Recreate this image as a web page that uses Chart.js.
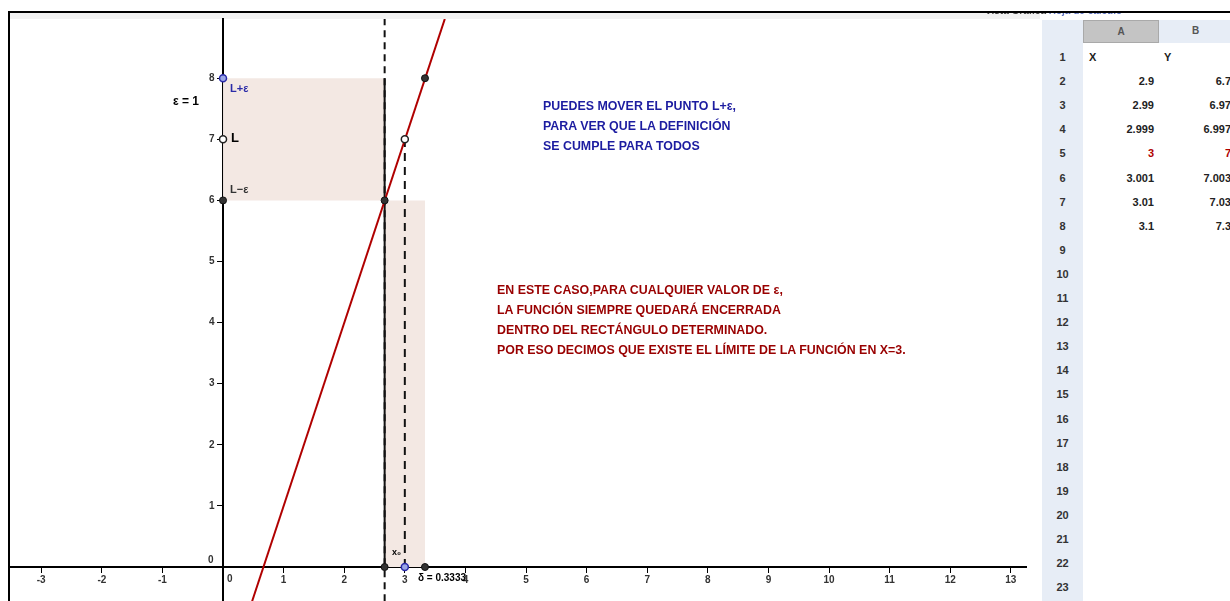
<!DOCTYPE html>
<html>
<head>
<meta charset="utf-8">
<script src="https://cdn.jsdelivr.net/npm/chart.js@4.4.1/dist/chart.umd.min.js"></script>
<style>
  body { margin:0; width:1230px; height:601px; overflow:hidden; background:#fff; position:relative; font-family:"Liberation Sans", Arial, sans-serif; }
  .abs { position:absolute; white-space:nowrap; }
  #topline { left:8px; top:11px; width:1222px; height:2px; background:#000; }
  #leftline { left:8px; top:11px; width:2px; height:590px; background:#000; }
  #strip { left:10px; top:13px; width:1030px; height:6px; background:#f1f1f1; }
  #wrap { left:10px; top:19px; width:1016px; height:582px; }
  .lbl { font-weight:bold; font-size:11px; line-height:12px; }
  .note { font-weight:bold; font-size:12.4px; line-height:20px; }
  #rowcol { left:1042px; top:20px; width:41px; height:581px; background:#e7edf6; }
  #headrow { left:1083px; top:20px; width:150px; height:23px; background:#e7edf6; }
  #headA { left:1083px; top:20px; width:74px; height:21px; background:#c4c4c4; border:1px solid #a9a9a9; text-align:center; line-height:21px; font-size:10px; font-weight:bold; color:#555; }
  .cell { font-size:11px; font-weight:bold; color:#222; line-height:14px; }
</style>
</head>
<body>
<div class="abs" id="strip"></div>
<div class="abs" id="wrap"><canvas id="ch"></canvas></div>
<div class="abs" id="topline"></div>
<div class="abs" id="leftline"></div>

<div class="abs" style="left:985px;top:13px;width:165px;height:4px;overflow:hidden">
  <div class="abs" style="left:0;top:-8px;font-size:10px;font-weight:bold;color:#444">Vista Gráfica <span style="color:#5a6fc0">Hoja de cálculo</span></div>
</div>

<div class="abs lbl" style="left:173px;top:95px;font-size:12px">ε = 1</div>
<div class="abs lbl" style="left:230px;top:82px;color:#2b2ba8">L+ε</div>
<div class="abs lbl" style="left:231px;top:132px;font-size:13px">L</div>
<div class="abs lbl" style="left:230px;top:183px;color:#333">L−ε</div>
<div class="abs lbl" style="left:392px;top:546px;font-size:9px">x₀</div>
<div class="abs lbl" style="left:418px;top:572px;font-size:10px">δ = 0.3333</div>
<div class="abs lbl" style="left:208px;top:554px;font-size:10px;color:#333">0</div>
<div class="abs lbl" style="left:227px;top:573px;font-size:10px;color:#333">0</div>

<div class="abs note" style="left:543px;top:96px;color:#1c1ca0">PUEDES MOVER EL PUNTO L+ε,<br>PARA VER QUE LA DEFINICIÓN<br>SE CUMPLE PARA TODOS</div>
<div class="abs note" style="left:497px;top:280px;color:#990000">EN ESTE CASO,PARA CUALQUIER VALOR DE ε,<br>LA FUNCIÓN SIEMPRE QUEDARÁ ENCERRADA<br>DENTRO DEL RECTÁNGULO DETERMINADO.<br>POR ESO DECIMOS QUE EXISTE EL LÍMITE DE LA FUNCIÓN EN X=3.</div>

<div class="abs" id="rowcol"></div>
<div class="abs" id="headrow"></div>
<div class="abs" id="headA">A</div>
<div class="abs" style="left:1192px;top:25px;font-size:10px;font-weight:bold;color:#555">B</div>
<div id="sheet"></div>

<script>
// values
const colX = ['X', '2.9', '2.99', '2.999', '3', '3.001', '3.01', '3.1'];
const colY = ['Y', '6.7', '6.97', '6.997', '7', '7.003', '7.03', '7.3'];
const redRow = 4;
const rowCount = 23;

const fLine = [{x:0.48, y:-0.56}, {x:3.66, y:8.97}];
const bandTop = [{x:0, y:8}, {x:2.667, y:8}];
const bandBottom = [{x:0, y:6}, {x:2.667, y:6}];
const bandV = [{x:2.667, y:6}, {x:3.333, y:6}];
const solidV = [{x:2.667, y:0}, {x:2.667, y:8}];
const dashedV = [{x:2.667, y:-0.56}, {x:2.667, y:8.97}];
const dashedX0 = [{x:3, y:0}, {x:3, y:7}];
const darkPts = [{x:0, y:6}, {x:3.333, y:8}, {x:2.667, y:6}, {x:2.667, y:0}, {x:3.333, y:0}];
const hollowPts = [{x:0, y:7}, {x:3, y:7}];
const bluePts = [{x:0, y:8}, {x:3, y:0}];

const X_MIN = -3.507, X_MAX = 13.259, Y_MIN = -0.556, Y_MAX = 8.969;
// where the plot area should sit on the page
const AREA = { left:10, top:19, right:1026, bottom:601 };

// spreadsheet
const sheet = document.getElementById('sheet');
let html = '';
for (let i = 0; i < rowCount; i++) {
  const cy = 50 + i * 24.1;
  html += `<div class="abs cell" style="left:1042px;width:41px;text-align:center;top:${cy}px;color:#333">${i+1}</div>`;
  if (i < colX.length) {
    const col = i === redRow ? '#b00000' : '#222';
    if (i === 0) {
      html += `<div class="abs cell" style="left:1089px;top:${cy}px">${colX[i]}</div>`;
      html += `<div class="abs cell" style="left:1164px;top:${cy}px">${colY[i]}</div>`;
    } else {
      html += `<div class="abs cell" style="left:1083px;width:71px;text-align:right;top:${cy}px;color:${col}">${colX[i]}</div>`;
      html += `<div class="abs cell" style="left:1158px;width:73px;text-align:right;top:${cy}px;color:${col}">${colY[i]}</div>`;
    }
  }
}
sheet.innerHTML = html;

const pink = '#f3e8e3';
const tickFont = { family:'"Liberation Sans", Arial, sans-serif', size:10, weight:'bold' };

const chart = new Chart(document.getElementById('ch'), {
  type: 'scatter',
  data: { datasets: [
    { data: bluePts, pointRadius:3.5, pointBackgroundColor:'#9aa6e6', pointBorderColor:'#2a2aa8', pointBorderWidth:1.5 },
    { data: hollowPts, pointRadius:3.5, pointBackgroundColor:'#fff', pointBorderColor:'#222', pointBorderWidth:1.5 },
    { data: darkPts, pointRadius:3.5, pointBackgroundColor:'#333', pointBorderColor:'#111', pointBorderWidth:1 },
    { type:'line', data: fLine, borderColor:'#b00000', borderWidth:2, pointRadius:0, fill:false },
    { type:'line', data: solidV, borderColor:'#111', borderWidth:2, pointRadius:0, fill:false },
    { type:'line', data: dashedV, borderColor:'#111', borderWidth:2, borderDash:[7,5], pointRadius:0, fill:false },
    { type:'line', data: dashedX0, borderColor:'#111', borderWidth:2, borderDash:[8,6], pointRadius:0, fill:false },
    { type:'line', data: bandTop, borderWidth:0, pointRadius:0, backgroundColor:pink, fill:'+1' },
    { type:'line', data: bandBottom, borderWidth:0, pointRadius:0, fill:false },
    { type:'line', data: bandV, borderWidth:0, pointRadius:0, backgroundColor:pink, fill:'origin' },
  ]},
  options: {
    responsive:true, maintainAspectRatio:false, animation:false,
    layout:{ padding:0 },
    plugins:{ legend:{display:false}, tooltip:{enabled:false} },
    scales:{
      x:{ type:'linear', position:{y:0}, min:X_MIN, max:X_MAX,
          ticks:{ stepSize:1, includeBounds:false, autoSkip:false, maxRotation:0, padding:2, color:'#333', font:tickFont,
                  callback:v => v === 0 ? '' : v },
          grid:{ drawOnChartArea:false, drawTicks:true, tickLength:5, color:'#000' },
          border:{ display:true, color:'#000', width:2 } },
      y:{ type:'linear', position:{x:0}, min:Y_MIN, max:Y_MAX,
          // labels are right-aligned on the axis itself, the spaces push them left of it
          ticks:{ stepSize:1, includeBounds:false, autoSkip:false, padding:2, color:'#333', font:tickFont,
                  callback:v => v === 0 ? '' : v + '   ' },
          grid:{ drawOnChartArea:false, drawTicks:true, tickLength:5, color:'#000' },
          border:{ display:true, color:'#000', width:2 } }
    }
  }
});

// the label padding shrinks the plot area; grow the canvas so the area lands on AREA
const wrap = document.getElementById('wrap');
for (let k = 0; k < 2; k++) {
  const ca = chart.chartArea;
  const pl = ca.left, pt = ca.top, pr = chart.width - ca.right, pb = chart.height - ca.bottom;
  wrap.style.left = (AREA.left - pl) + 'px';
  wrap.style.top = (AREA.top - pt) + 'px';
  wrap.style.width = (AREA.right - AREA.left + pl + pr) + 'px';
  wrap.style.height = (AREA.bottom - AREA.top + pt + pb) + 'px';
  chart.resize();
}
</script>
</body>
</html>
